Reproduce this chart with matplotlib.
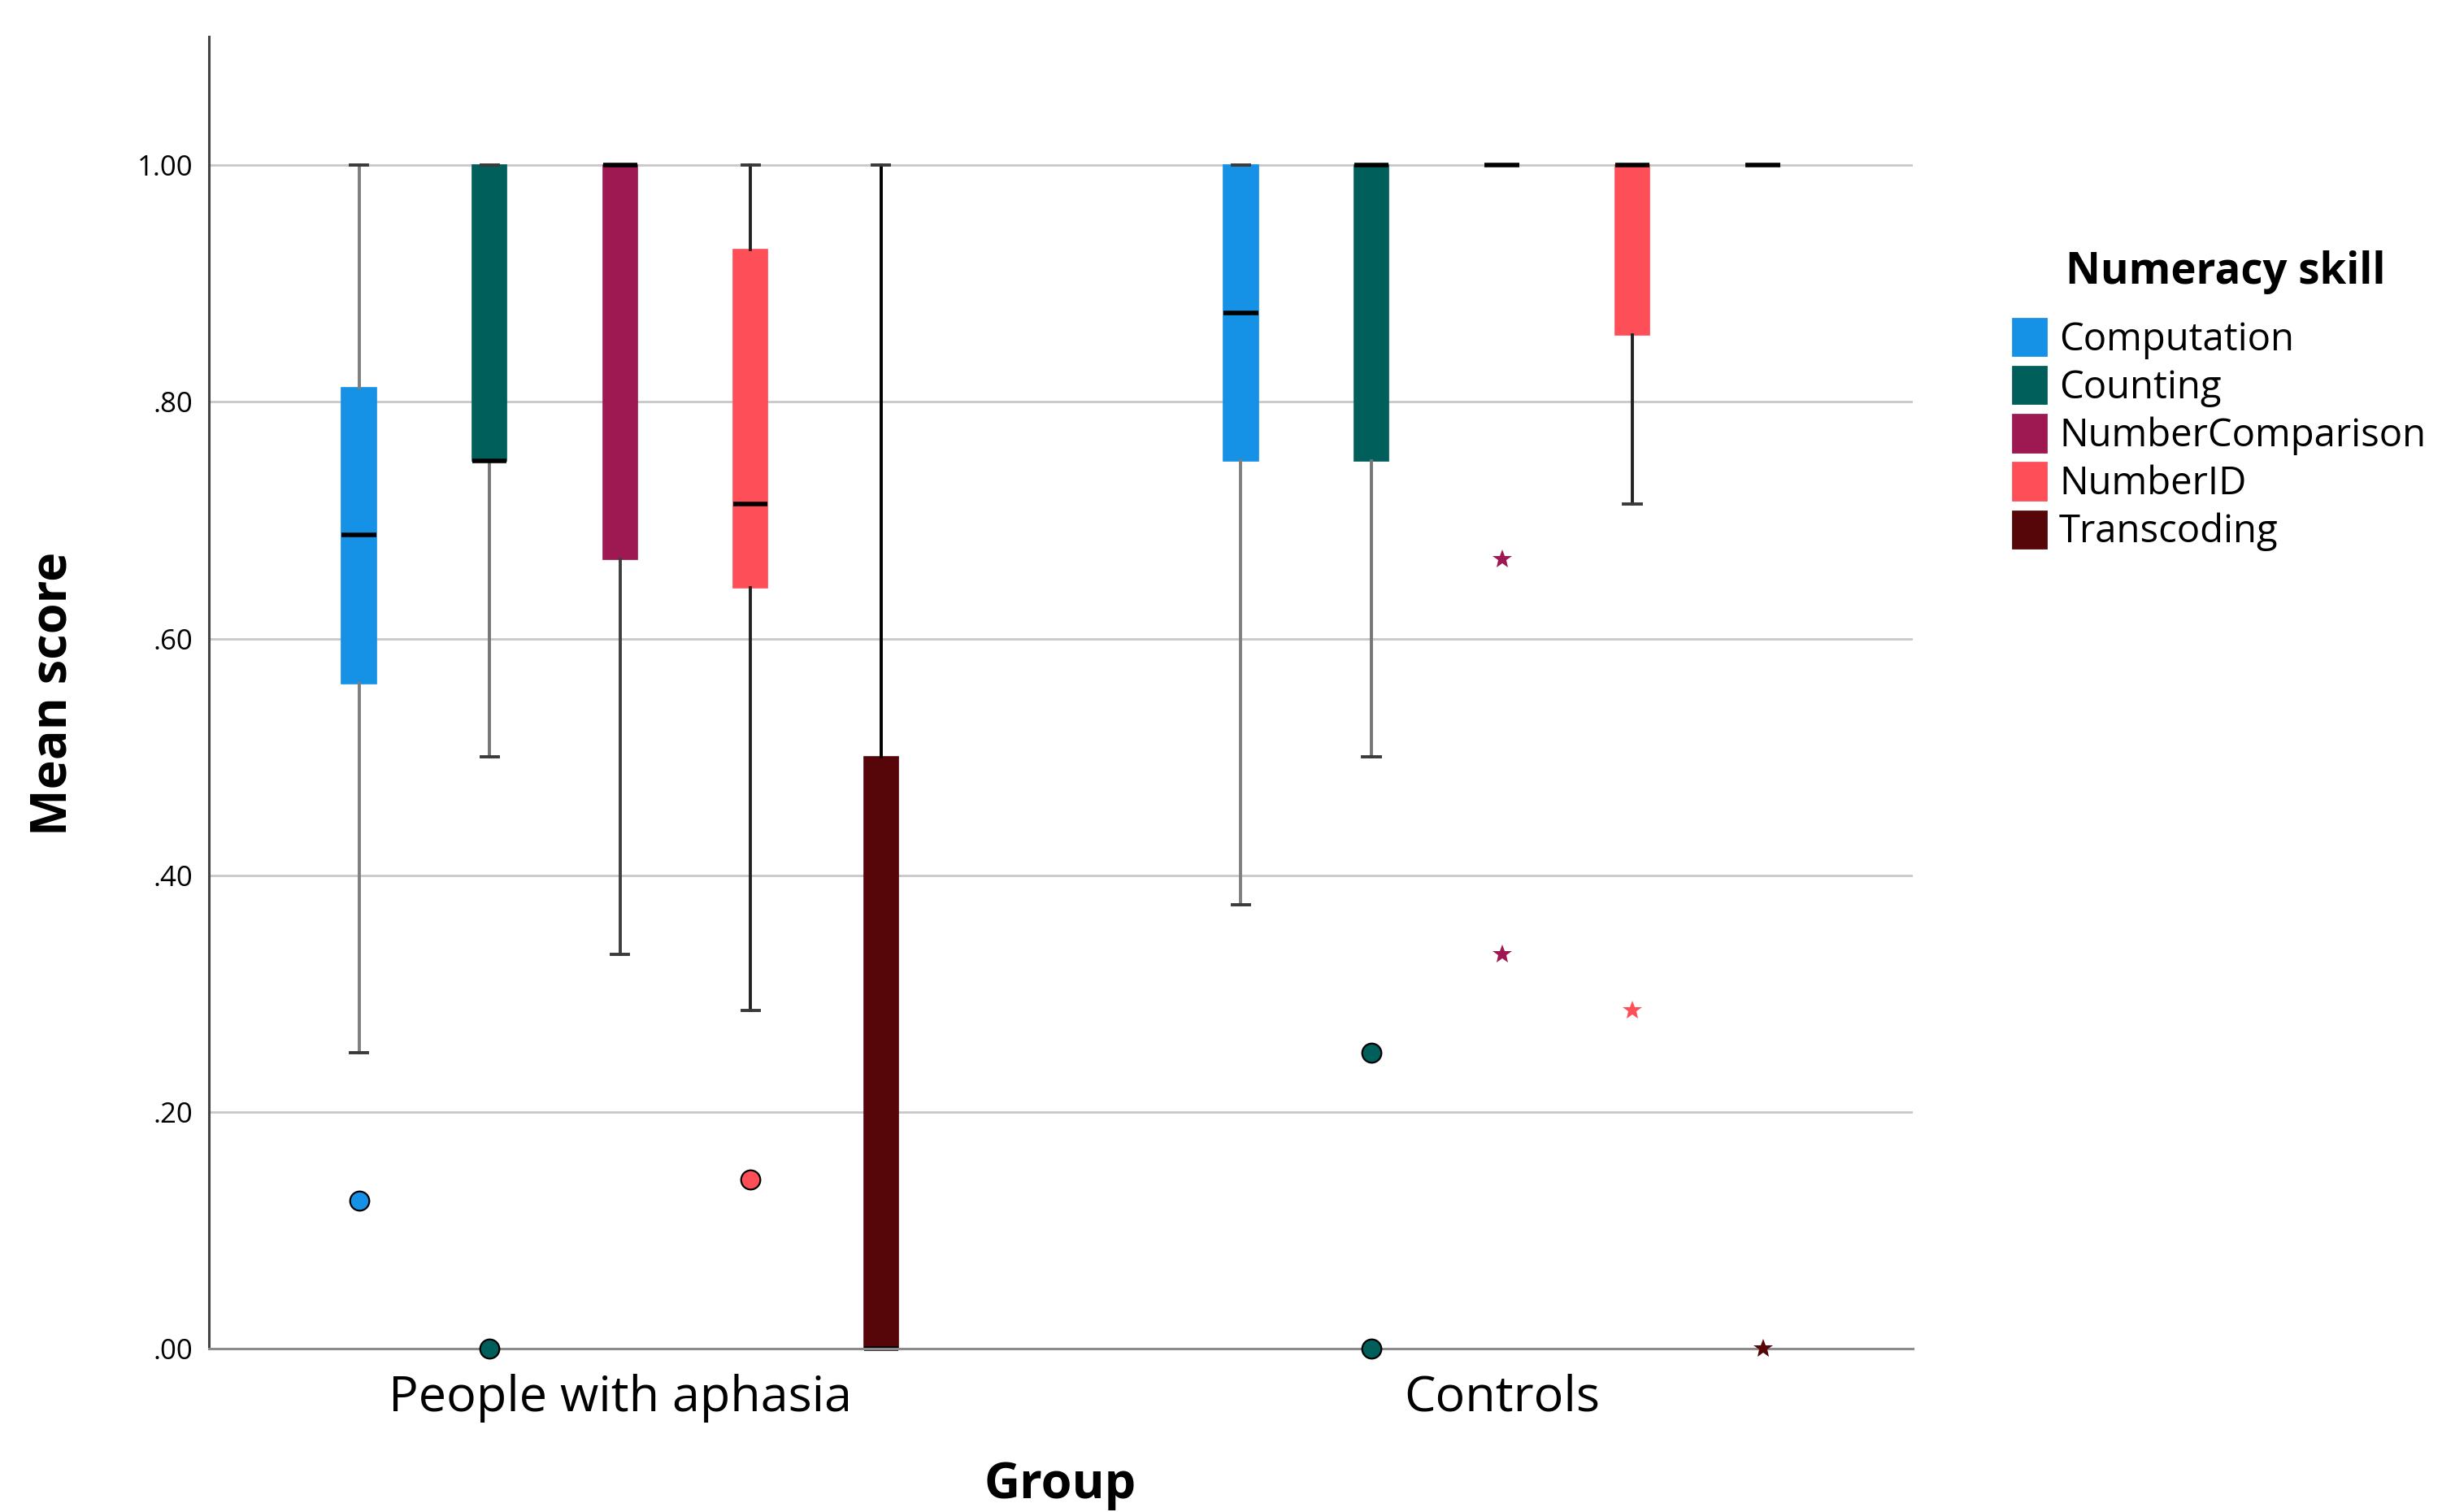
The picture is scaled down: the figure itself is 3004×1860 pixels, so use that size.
import matplotlib
matplotlib.use("Agg")
import matplotlib.pyplot as plt
from matplotlib.patches import Patch

# data
groups = ["People with aphasia", "Controls"]
skills = ["Computation", "Counting", "NumberComparison", "NumberID", "Transcoding"]
colors = ["#1591E6", "#005E5B", "#9E1951", "#FE4F58", "#560508"]
whisker_colors = ["#7F7F7F", "#767676", "#3F3F3F", "#222222", "#000000"]

# People with aphasia
pwa_q1 = [0.562, 0.75, 0.667, 0.643, 0.0]
pwa_med = [0.688, 0.75, 1.0, 0.714, 0.0]
pwa_q3 = [0.812, 1.0, 1.0, 0.929, 0.5]
pwa_lo = [0.25, 0.5, 0.333, 0.286, 0.0]
pwa_hi = [1.0, 1.0, 1.0, 1.0, 1.0]
pwa_out = [[0.125], [0.0], [], [0.143], []]
pwa_ext = [[], [], [], [], []]

# Controls
ctl_q1 = [0.75, 0.75, 1.0, 0.857, 1.0]
ctl_med = [0.875, 1.0, 1.0, 1.0, 1.0]
ctl_q3 = [1.0, 1.0, 1.0, 1.0, 1.0]
ctl_lo = [0.375, 0.5, 1.0, 0.714, 1.0]
ctl_hi = [1.0, 1.0, 1.0, 1.0, 1.0]
ctl_out = [[], [0.25, 0.0], [], [], []]
ctl_ext = [[], [], [0.667, 0.333], [0.286], [0.0]]

yticks = [0.0, 0.2, 0.4, 0.6, 0.8, 1.0]
ytick_labels = [".00", ".20", ".40", ".60", ".80", "1.00"]

SANS = ["Open Sans", "DejaVu Sans"]

fig = plt.figure(figsize=(15.02, 9.3), dpi=200)
ax = fig.add_axes([0.0856, 0.108, 0.6977, 0.868])

step = 0.148
width = 0.039
table = [
    (pwa_q1, pwa_med, pwa_q3, pwa_lo, pwa_hi, pwa_out, pwa_ext),
    (ctl_q1, ctl_med, ctl_q3, ctl_lo, ctl_hi, ctl_out, ctl_ext),
]

for g, (q1, med, q3, lo, hi, out, ext) in enumerate(table):
    for k in range(len(skills)):
        pos = g + (k - 2) * step
        stats = [dict(q1=q1[k], med=med[k], q3=q3[k], whislo=lo[k], whishi=hi[k], fliers=[])]
        art = ax.bxp(stats, positions=[pos], widths=width, capwidths=width * 0.5,
                     patch_artist=True, showfliers=False, manage_ticks=False,
                     boxprops=dict(facecolor=colors[k], edgecolor=colors[k], linewidth=0.6),
                     medianprops=dict(color="black", linewidth=2.0, solid_capstyle="butt"),
                     whiskerprops=dict(color=whisker_colors[k], linewidth=1.4),
                     capprops=dict(color="#3a3a3a", linewidth=1.4))
        for key in art:
            for a in art[key]:
                a.set_clip_on(False)
        if out[k]:
            ax.plot([pos] * len(out[k]), out[k], "o", color=colors[k], markersize=8.5,
                    markeredgecolor="black", markeredgewidth=0.8, clip_on=False, zorder=5)
        if ext[k]:
            ax.plot([pos] * len(ext[k]), ext[k], "*", color=colors[k], markersize=9,
                    markeredgewidth=0, clip_on=False, zorder=5)

ax.set_xlim(-0.466, 1.466)
ax.set_ylim(0, 1.109)
ax.set_xticks([0, 1])
ax.set_xticklabels(groups, family=SANS, fontsize=22)
ax.set_yticks(yticks)
ax.set_yticklabels(ytick_labels, family=SANS, fontsize=12.5)
ax.tick_params(axis="both", length=0)
ax.tick_params(axis="y", pad=7)
ax.tick_params(axis="x", pad=11)

ax.set_axisbelow(True)
ax.yaxis.grid(True, color="#C8C8C8", linewidth=1.0)
for s in ["top", "right"]:
    ax.spines[s].set_visible(False)
ax.spines["left"].set_color("#444444")
ax.spines["left"].set_linewidth(1.1)
ax.spines["bottom"].set_color("#8C8C8C")
ax.spines["bottom"].set_linewidth(1.1)

fig.text(0.022, 0.541, "Mean score", rotation=90, ha="center", va="center",
         family=SANS, fontweight="bold", fontsize=22)
fig.text(0.434, 0.009, "Group", ha="center", va="baseline",
         family=SANS, fontweight="bold", fontsize=22)

fig.text(0.9115, 0.820, "Numeracy skill", ha="center", va="center",
         family=SANS, fontweight="bold", fontsize=19)
handles = [Patch(facecolor=c, edgecolor=c, label=s) for s, c in zip(skills, colors)]
leg = fig.legend(handles=handles, loc="upper left",
                 bbox_to_anchor=(0.8165, 0.802), frameon=False, borderpad=0,
                 prop=dict(family=SANS, size=17), handlelength=0.85, handleheight=1.1,
                 handletextpad=0.35, labelspacing=0.2)

fig.savefig("out.png", dpi=200)
